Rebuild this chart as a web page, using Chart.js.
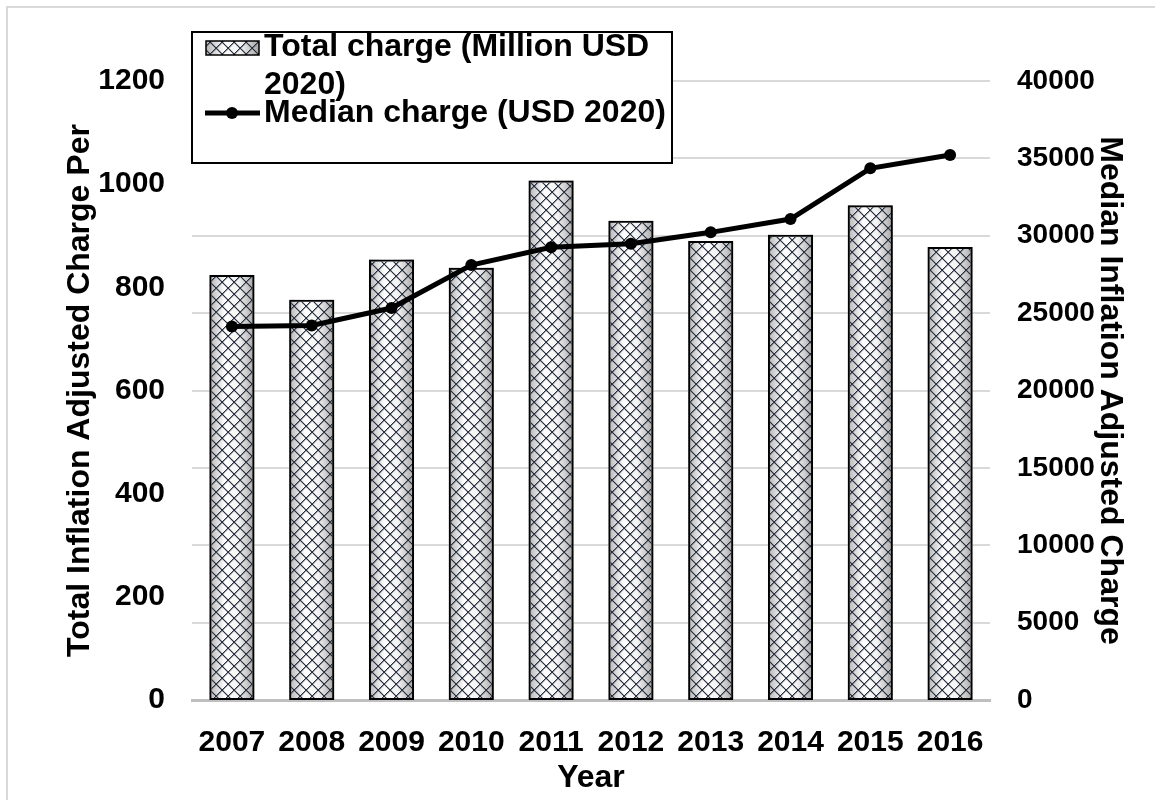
<!DOCTYPE html>
<html>
<head>
<meta charset="utf-8">
<script src="https://cdn.jsdelivr.net/npm/chart.js@4.4.1/dist/chart.umd.min.js"></script>
<style>
  html, body { margin: 0; padding: 0; background: #fff; overflow: hidden; }
</style>
</head>
<body>
<canvas id="chargeChart" width="1155" height="800"></canvas>
<script>
// 연도별 데이터
const years = ['2007', '2008', '2009', '2010', '2011', '2012', '2013', '2014', '2015', '2016'];
const totalCharge = [824, 776, 854, 838, 1007, 929, 890, 902, 959, 878];
const medianCharge = [24140, 24200, 25330, 28110, 29250, 29490, 30220, 31080, 34360, 35220];
const leftTicks = [0, 200, 400, 600, 800, 1000, 1200];
const rightTicks = [0, 5000, 10000, 15000, 20000, 25000, 30000, 35000, 40000];

const totalLabel = 'Total charge (Million USD 2020)';
const medianLabel = 'Median charge (USD 2020)';

const FONT = '"Liberation Sans", Arial, sans-serif';
const canvas = document.getElementById('chargeChart');
const mainCtx = canvas.getContext('2d');

// 막대 위에 깔리는 격자 무늬
function makeCrossHatch() {
  const c = document.createElement('canvas');
  c.width = 12;
  c.height = 12;
  const g = c.getContext('2d');
  g.fillStyle = '#28313f';
  for (let i = 0; i < 12; i++) {
    g.fillRect(i, i, 1.3, 1.3);
    g.fillRect(11 - i, i, 1.3, 1.3);
  }
  return mainCtx.createPattern(c, 'repeat');
}
const hatch = makeCrossHatch();

function cylinderShade(ctx, left, width) {
  const g = ctx.createLinearGradient(left, 0, left + width, 0);
  g.addColorStop(0, '#b4b4b4');
  g.addColorStop(0.35, '#ffffff');
  g.addColorStop(0.65, '#f3f3f3');
  g.addColorStop(1, '#a4a4a4');
  return g;
}

// 막대 음영 (패턴 아래에 먼저 그림)
const barShade = {
  id: 'barShade',
  beforeDatasetDraw(chart, args) {
    if (args.index !== 0) return;
    const ctx = chart.ctx;
    args.meta.data.forEach(bar => {
      const { x, y, base, width } = bar.getProps(['x', 'y', 'base', 'width'], true);
      const left = x - width / 2;
      ctx.save();
      ctx.fillStyle = cylinderShade(ctx, left, width);
      ctx.fillRect(left, y, width, base - y);
      ctx.restore();
    });
  }
};

// 바깥 테두리
const frame = {
  id: 'frame',
  beforeDraw(chart) {
    const ctx = chart.ctx;
    ctx.save();
    ctx.strokeStyle = '#d9d9d9';
    ctx.lineWidth = 2;
    ctx.strokeRect(7, 7, 1400, 1000);
    ctx.restore();
  }
};

function wrapText(ctx, text, maxWidth) {
  const words = text.split(' ');
  const lines = [];
  let cur = '';
  words.forEach(w => {
    const test = cur ? cur + ' ' + w : w;
    if (ctx.measureText(test).width > maxWidth && cur) {
      lines.push(cur);
      cur = w;
    } else {
      cur = test;
    }
  });
  if (cur) lines.push(cur);
  return lines;
}

// 범례 박스 (차트 영역 위에 겹쳐 그림)
const boxLegend = {
  id: 'boxLegend',
  afterDraw(chart) {
    const ctx = chart.ctx;
    const bx = 192, by = 32, bw = 480, bh = 131;
    ctx.save();
    ctx.fillStyle = '#fff';
    ctx.fillRect(bx, by, bw, bh);
    ctx.lineWidth = 2;
    ctx.strokeStyle = '#000';
    ctx.strokeRect(bx, by, bw, bh);

    ctx.font = 'bold 32px ' + FONT;
    ctx.fillStyle = '#000';
    ctx.textBaseline = 'middle';
    ctx.textAlign = 'left';

    const textX = 264;
    let rowY = 47;
    chart.data.datasets.forEach(ds => {
      if (ds.type === 'bar') {
        ctx.fillStyle = cylinderShade(ctx, 206, 53);
        ctx.fillRect(206, rowY - 6, 53, 14);
        ctx.fillStyle = hatch;
        ctx.fillRect(206, rowY - 6, 53, 14);
        ctx.lineWidth = 1.5;
        ctx.strokeStyle = '#000';
        ctx.strokeRect(206, rowY - 6, 53, 14);
      } else {
        ctx.beginPath();
        ctx.moveTo(205, rowY);
        ctx.lineTo(260, rowY);
        ctx.lineWidth = 5;
        ctx.strokeStyle = '#000';
        ctx.stroke();
        ctx.beginPath();
        ctx.arc(232, rowY, 6, 0, Math.PI * 2);
        ctx.fillStyle = '#000';
        ctx.fill();
      }
      ctx.fillStyle = '#000';
      const lines = wrapText(ctx, ds.label, 410);
      lines.forEach((ln, i) => {
        ctx.fillText(ln, textX, rowY + i * 38);
      });
      rowY += (lines.length - 1) * 38 + 28;
    });
    ctx.restore();
  }
};

const tickFont = { family: FONT, size: 30, weight: 'bold' };
const rightTickFont = { family: FONT, size: 28, weight: 'bold' };
const titleFont = { family: FONT, size: 32, weight: 'bold' };
const plain = v => String(v);

new Chart(canvas, {
  data: {
    labels: years,
    datasets: [
      {
        type: 'bar',
        label: totalLabel,
        data: totalCharge,
        yAxisID: 'y',
        backgroundColor: hatch,
        borderColor: '#000',
        borderWidth: 2,
        borderSkipped: false,
        barPercentage: 0.565,
        categoryPercentage: 1,
        order: 2
      },
      {
        type: 'line',
        label: medianLabel,
        data: medianCharge,
        yAxisID: 'y1',
        borderColor: '#000',
        borderWidth: 5,
        pointRadius: 6,
        pointBackgroundColor: '#000',
        pointBorderWidth: 0,
        tension: 0,
        order: 1
      }
    ]
  },
  options: {
    responsive: false,
    animation: false,
    layout: { padding: { top: 81, left: 0, right: 0, bottom: 0 } },
    plugins: {
      legend: { display: false },
      tooltip: { enabled: false }
    },
    scales: {
      x: {
        grid: { display: false, drawTicks: false },
        border: { color: '#bfbfbf', width: 3 },
        ticks: { color: '#000', font: tickFont, padding: 25, maxRotation: 0, autoSkip: false },
        title: { display: true, text: 'Year', color: '#000', font: titleFont, padding: { top: 0, bottom: 3 } },
        afterFit: s => { s.height = 100; }
      },
      y: {
        position: 'left',
        min: leftTicks[0],
        max: leftTicks[leftTicks.length - 1],
        ticks: { stepSize: leftTicks[1] - leftTicks[0], color: '#000', font: tickFont, padding: 27, callback: plain },
        grid: { display: false, drawTicks: false },
        border: { display: false },
        title: {
          display: true,
          text: 'Total Inflation Adjusted Charge Per',
          color: '#000',
          font: titleFont,
          padding: { top: 61, bottom: 0 }
        },
        afterFit: s => { s.width = 192; }
      },
      y1: {
        position: 'right',
        min: rightTicks[0],
        max: rightTicks[rightTicks.length - 1],
        ticks: { stepSize: rightTicks[1] - rightTicks[0], color: '#000', font: rightTickFont, padding: 27, callback: plain },
        grid: {
          color: c => (c.tick && c.tick.value === 0 ? 'rgba(0,0,0,0)' : '#d9d9d9'),
          lineWidth: 2,
          drawTicks: false
        },
        border: { display: false },
        title: {
          display: true,
          text: 'Median Inflation Adjusted Charge',
          color: '#000',
          font: titleFont,
          padding: { top: 26, bottom: 0 }
        },
        afterFit: s => { s.width = 165; }
      }
    }
  },
  plugins: [frame, barShade, boxLegend]
});
</script>
</body>
</html>
